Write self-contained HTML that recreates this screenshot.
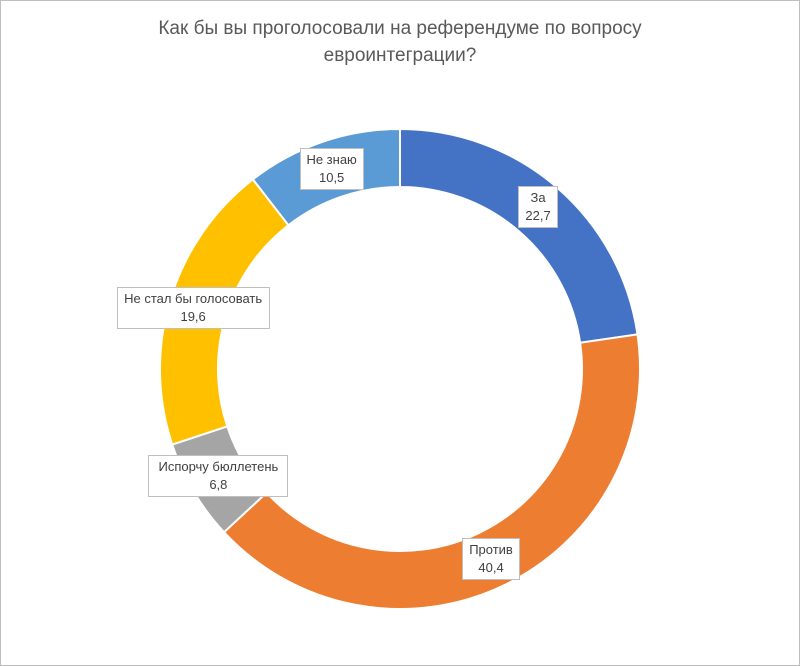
<!DOCTYPE html>
<html><head><meta charset="utf-8">
<style>
html,body{margin:0;padding:0;background:#fff;}
#wrap{position:relative;width:798px;height:664px;border:1px solid #bfbfbf;background:#fff;font-family:"Liberation Sans","DejaVu Sans",sans-serif;}
#title{position:absolute;left:0;top:14px;width:798px;text-align:center;font-size:19px;line-height:27px;color:#595959;}
.lbl{position:absolute;background:#fff;border:1px solid #bfbfbf;font-size:13px;line-height:18px;color:#404040;text-align:center;box-sizing:border-box;padding-top:2px;}
</style></head><body>
<div id="wrap">
<div id="title">Как бы вы проголосовали на референдуме по вопросу<br>евроинтеграции?</div>
<svg id="chart" width="798" height="664" style="position:absolute;left:0;top:0"></svg>
<div id="labels"></div>
</div>
<script>
const categories = ["За","Против","Испорчу бюллетень","Не стал бы голосовать","Не знаю"];
const values = [22.7,40.4,6.8,19.6,10.5];
const valueLabels = ["22,7","40,4","6,8","19,6","10,5"];
const colors = ["#4472c4","#ed7d31","#a5a5a5","#ffc000","#5b9bd5"];
const cx=399, cy=368, R=240, r=182;
const svg=document.getElementById('chart');
const NS="http://www.w3.org/2000/svg";
const total=values.reduce((a,b)=>a+b,0);
function pt(rad,a){return [cx+rad*Math.sin(a), cy-rad*Math.cos(a)];}
let acc=0;
const mids=[];
values.forEach((v,i)=>{
  const a0=acc/total*2*Math.PI, a1=(acc+v)/total*2*Math.PI; acc+=v;
  mids.push((a0+a1)/2);
  const large=(a1-a0)>Math.PI?1:0;
  const p0=pt(R,a0),p1=pt(R,a1),q1=pt(r,a1),q0=pt(r,a0);
  const path=document.createElementNS(NS,'path');
  path.setAttribute('d',`M${p0[0]},${p0[1]} A${R},${R} 0 ${large} 1 ${p1[0]},${p1[1]} L${q1[0]},${q1[1]} A${r},${r} 0 ${large} 0 ${q0[0]},${q0[1]} Z`);
  path.setAttribute('fill',colors[i]);
  path.setAttribute('stroke','#fff');
  path.setAttribute('stroke-width','2');
  
  
  svg.appendChild(path);
});
// label box sizes (layout only)
const boxW=[40,58,140,153,64];
const labelsDiv=document.getElementById('labels');
const offsets=[[0,-2],[0,0],[0,0],[-5,0],[0,0]];
values.forEach((v,i)=>{
  const m=pt((R+r)/2,mids[i]);
  const d=document.createElement('div');
  d.className='lbl';
  
  
  d.style.width=boxW[i]+'px';
  d.style.height='42px';
  d.innerHTML=categories[i]+'<br>'+valueLabels[i];
  labelsDiv.appendChild(d);
  d.style.left=(m[0]-boxW[i]/2+offsets[i][0])+'px';
  d.style.top=(m[1]-21+offsets[i][1])+'px';
});
</script>
</body></html>
